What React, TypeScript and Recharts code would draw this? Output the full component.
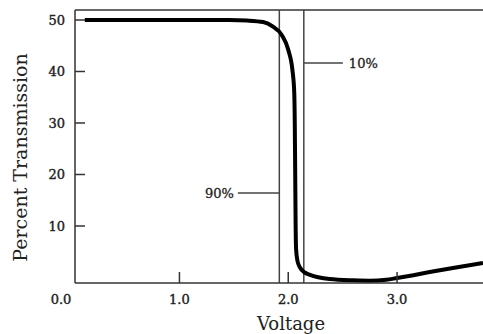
import React from "react";
import { LineChart, Line, XAxis, YAxis, ReferenceLine } from "recharts";

// Curve: voltage (V) vs percent transmission
const VOLTAGE = [
  0.13, 0.6, 1.2, 1.46, 1.62, 1.77, 1.86, 1.94, 2.0, 2.04, 2.055, 2.06, 2.064,
  2.068, 2.072, 2.085, 2.106, 2.15, 2.2, 2.38, 2.6, 2.75, 2.9, 3.0, 3.15, 3.3,
  3.5, 3.79,
];
const TRANSMISSION = [
  50, 50, 50, 50, 49.9, 49.6, 48.7, 47.1, 44.2, 40, 36, 30, 20, 10, 5.5, 3.2,
  2.0, 1.0, 0.5, -0.3, -0.55, -0.62, -0.45, -0.1, 0.45, 1.05, 1.8, 2.8,
];

const X_MIN = 0.04;
const X_MAX = 3.79;
const Y_MIN = -1.07;
const Y_MAX = 51.94;
const X_TICKS = [X_MIN, 1, 2, 3];
const X_TICK_LABELS = ["0.0", "1.0", "2.0", "3.0"];
const Y_TICKS = [10, 20, 30, 40, 50];

// vertical markers (voltage) and annotation leaders
const MARKERS = [1.918, 2.143];
const ANNOTATIONS = [
  { label: "10%", level: 41.65, from: 2.143, to: 2.502, side: "right" },
  { label: "90%", level: 16.4, from: 1.537, to: 1.918, side: "left" },
];

const data = VOLTAGE.map((v, i) => ({ v, t: TRANSMISSION[i] }));

const AXIS = "#333";
const FONT = "'DejaVu Serif', serif";
const TICK_FILL = "#222";

const YTick = (props: any) => {
  const { x, y, payload } = props;
  return (
    <g>
      <line x1={x + 10} x2={x + 20} y1={y} y2={y} stroke={AXIS} strokeWidth={1.5} />
      <text x={x} y={y} dy="0.36em" textAnchor="end" fontSize={13} fill={TICK_FILL} stroke={TICK_FILL} strokeWidth={0.4} fontFamily={FONT}>
        {payload.value}
      </text>
    </g>
  );
};

const XTick = (props: any) => {
  const { x, y, payload, index } = props;
  const first = payload.value === X_MIN;
  return (
    <g>
      {!first && (
        <line x1={x} x2={x} y1={y - 16} y2={y - 27} stroke={AXIS} strokeWidth={1.5} />
      )}
      <text x={first ? x - 14 : x} y={y} dy="0.36em" textAnchor="middle" fontSize={13} fill={TICK_FILL} stroke={TICK_FILL} strokeWidth={0.4} fontFamily={FONT}>
        {X_TICK_LABELS[index] ?? payload.value}
      </text>
    </g>
  );
};

export default function App() {
  return (
    <div style={{ position: "absolute", left: 0, top: 0, width: 483, height: 334, fontFamily: FONT, overflow: "hidden" }}>
      <LineChart width={483} height={334} data={data} margin={{ top: 10, right: 0, bottom: 0, left: 0 }}>
        <XAxis
          dataKey="v"
          type="number"
          domain={[X_MIN, X_MAX]}
          allowDataOverflow
          ticks={X_TICKS}
          tick={<XTick />}
          tickSize={0}
          tickMargin={16}
          tickLine={false}
          interval={0}
          height={51}
          axisLine={{ stroke: AXIS, strokeWidth: 1.5 }}
          label={{
            content: (p: any) => {
              const vb = p.viewBox;
              return (
                <text x={vb.x + vb.width / 2 + 12} y={vb.y + 47} textAnchor="middle" fontSize={18} fill="#222" fontFamily={FONT}>
                  Voltage
                </text>
              );
            },
          }}
        />
        <YAxis
          type="number"
          domain={[Y_MIN, Y_MAX]}
          allowDataOverflow
          ticks={Y_TICKS}
          tick={<YTick />}
          tickSize={0}
          tickMargin={10}
          tickLine={false}
          interval={0}
          width={75}
          axisLine={{ stroke: AXIS, strokeWidth: 1.5 }}
          label={{
            content: (p: any) => {
              const vb = p.viewBox;
              const cx = 20;
              const cy = vb.y + vb.height / 2 + 11;
              return (
                <text x={cx} y={cy} transform={`rotate(-90 ${cx} ${cy})`} textAnchor="middle" dominantBaseline="central" fontSize={19} fill="#222" fontFamily={FONT}>
                  Percent Transmission
                </text>
              );
            },
          }}
        />
        <ReferenceLine y={Y_MAX} stroke={AXIS} strokeWidth={1.5} />
        {MARKERS.map((m) => (
          <ReferenceLine key={m} x={m} stroke="#444" strokeWidth={1.5} />
        ))}
        {ANNOTATIONS.map((a) => (
          <ReferenceLine
            key={a.label}
            segment={[
              { x: a.from, y: a.level },
              { x: a.to, y: a.level },
            ]}
            stroke="#444"
            strokeWidth={1.5}
            label={{
              value: a.label,
              position: a.side as any,
              offset: a.side === "right" ? 6 : 4,
              fontSize: 13,
              fill: TICK_FILL,
              stroke: TICK_FILL,
              strokeWidth: 0.3,
              fontFamily: FONT,
            }}
          />
        ))}
        <Line
          dataKey="t"
          type="monotone"
          stroke="#000"
          strokeWidth={4}
          dot={false}
          isAnimationActive={false}
        />
      </LineChart>
    </div>
  );
}
